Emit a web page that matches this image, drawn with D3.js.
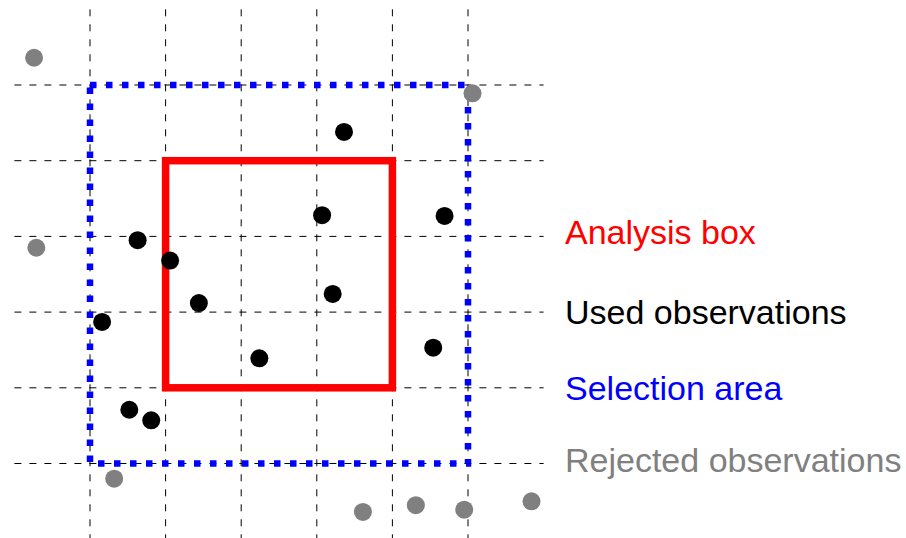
<!DOCTYPE html>
<html>
<head>
<meta charset="utf-8">
<script src="https://cdn.jsdelivr.net/npm/d3@7"></script>
<style>
  html, body { margin: 0; padding: 0; background: #fff; }
  svg { display: block; }
  text { font-family: "Liberation Sans", Arial, Helvetica, sans-serif; }
</style>
</head>
<body>
<svg width="906" height="538"></svg>
<script>
// grid positions (in grid units)
const gridTicks = [0, 1, 2, 3, 4, 5];
const gridExtent = [-1, 6];

// boxes: [x0, y0, x1, y1]
const selectionArea = [0, 0, 5, 5];
const analysisBox = [1, 1, 4, 4];

// used observations (x, y)
const usedX = [3.36, 3.07, 4.69, 0.63, 1.06, 3.21, 1.44, 0.16, 4.54, 2.24, 0.52, 0.81];
const usedY = [4.38, 3.28, 3.27, 2.95, 2.68, 2.24, 2.12, 1.87, 1.53, 1.39, 0.71, 0.57];

// rejected observations (x, y)
const rejectedX = [-0.74, 5.06, -0.71, 0.32, 3.61, 4.31, 4.95, 5.84];
const rejectedY = [5.36, 4.89, 2.85, -0.20, -0.64, -0.55, -0.61, -0.50];

// legend labels
const labels = ['Analysis box', 'Used observations', 'Selection area', 'Rejected observations'];
const labelColors = ['#ff0000', '#000000', '#0000ff', '#808080'];
const labelRows = [2.9, 1.84, 0.84, -0.11];

const x = d3.scaleLinear().domain([0, 5]).range([90, 468]);
const y = d3.scaleLinear().domain([0, 5]).range([463.5, 85]);

const svg = d3.select('svg');

// dashed grid
const grid = svg.append('g')
  .attr('stroke', '#000')
  .attr('stroke-width', 1)
  .attr('stroke-dasharray', '7,8');

grid.selectAll('line.v')
  .data(gridTicks)
  .enter()
  .append('line')
  .attr('class', 'v')
  .attr('x1', (d) => x(d))
  .attr('x2', (d) => x(d))
  .attr('y1', y(gridExtent[1]))
  .attr('y2', y(gridExtent[0]));

grid.selectAll('line.h')
  .data(gridTicks)
  .enter()
  .append('line')
  .attr('class', 'h')
  .attr('y1', (d) => y(d))
  .attr('y2', (d) => y(d))
  .attr('x1', x(gridExtent[0]))
  .attr('x2', x(gridExtent[1]));

const rectFrom = (sel, b) =>
  sel
    .attr('x', x(b[0]))
    .attr('y', y(b[3]))
    .attr('width', x(b[2]) - x(b[0]))
    .attr('height', y(b[1]) - y(b[3]))
    .attr('fill', 'none');

// selection area (blue dotted)
svg.append('rect')
  .call(rectFrom, selectionArea)
  .attr('stroke', '#0000ff')
  .attr('stroke-width', 6.5)
  .attr('stroke-dasharray', '6.5,9.5');

// analysis box (red)
svg.append('rect')
  .call(rectFrom, analysisBox)
  .attr('stroke', '#ff0000')
  .attr('stroke-width', 7.5);

const used = usedX.map((d, i) => ({ x: d, y: usedY[i] }));
const rejected = rejectedX.map((d, i) => ({ x: d, y: rejectedY[i] }));

svg.append('g')
  .selectAll('circle')
  .data(used)
  .enter()
  .append('circle')
  .attr('cx', (d) => x(d.x))
  .attr('cy', (d) => y(d.y))
  .attr('r', 9)
  .attr('fill', '#000');

svg.append('g')
  .selectAll('circle')
  .data(rejected)
  .enter()
  .append('circle')
  .attr('cx', (d) => x(d.x))
  .attr('cy', (d) => y(d.y))
  .attr('r', 9)
  .attr('fill', '#808080');

svg.append('g')
  .selectAll('text')
  .data(labels)
  .enter()
  .append('text')
  .attr('x', 565)
  .attr('y', (d, i) => y(labelRows[i]))
  .attr('fill', (d, i) => labelColors[i])
  .style('font-size', '34px')
  .text((d) => d);
</script>
</body>
</html>
